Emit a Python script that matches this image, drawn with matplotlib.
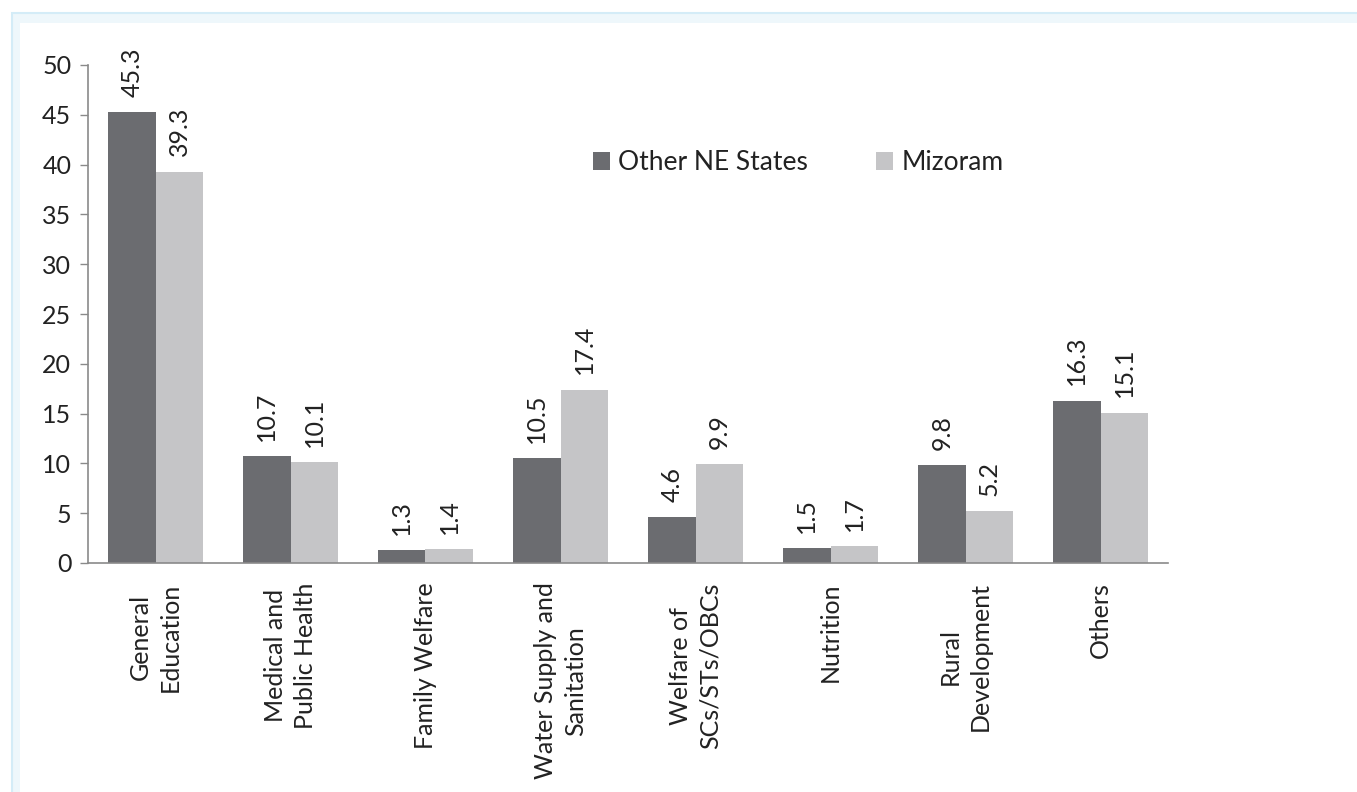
import matplotlib.pyplot as plt
import numpy as np
from matplotlib.patches import Rectangle

plt.rcParams['font.family'] = ['Lato', 'DejaVu Sans']

categories = [
    "General\nEducation",
    "Medical and\nPublic Health",
    "Family Welfare",
    "Water Supply and\nSanitation",
    "Welfare of\nSCs/STs/OBCs",
    "Nutrition",
    "Rural\nDevelopment",
    "Others",
]
other_ne = [45.3, 10.7, 1.3, 10.5, 4.6, 1.5, 9.8, 16.3]
mizoram = [39.3, 10.1, 1.4, 17.4, 9.9, 1.7, 5.2, 15.1]
series_names = ["Other NE States", "Mizoram"]

W, H = 1357, 792
fig = plt.figure(figsize=(W / 100, H / 100), dpi=100)
fig.patch.set_facecolor("white")

# pale blue page frame along the top and left
fig.patches.append(Rectangle((12 / W, -0.05), 1.0, 1.05 - 13 / H,
                             transform=fig.transFigure, facecolor="#eef7fb",
                             edgecolor="#d4ecf7", linewidth=1.5, zorder=-2))
fig.patches.append(Rectangle((20 / W, -0.05), 1.0, 1.05 - 23 / H,
                             transform=fig.transFigure, facecolor="white",
                             edgecolor="none", zorder=-1))

ax = fig.add_axes([88 / W, 1 - 563 / H, (1168 - 88) / W, (563 - 65) / H])
ax.set_facecolor("none")

x = np.arange(len(categories))
w = 0.35
b1 = ax.bar(x - w / 2, other_ne, w, color="#6b6c70", label=series_names[0])
b2 = ax.bar(x + w / 2, mizoram, w, color="#c5c5c7", label=series_names[1])

for bars, vals in ((b1, other_ne), (b2, mizoram)):
    for bar, v in zip(bars, vals):
        ax.annotate(f"{v:.1f}", (bar.get_x() + bar.get_width() / 2, v),
                    xytext=(0, 11), textcoords="offset points",
                    rotation=90, ha="center", va="bottom",
                    fontsize=18, color="#222222")

ax.set_xlim(-0.5, len(categories) - 0.5)
ax.set_ylim(0, 50)
ax.set_yticks(range(0, 51, 5))
ax.set_xticks(x)
ax.set_xticklabels(categories, rotation=90, ha="center", va="top",
                   multialignment="center", linespacing=1.35)

ax.tick_params(axis="y", length=6, width=1, color="#8a8a8a",
               labelsize=18, labelcolor="#222222", pad=6)
ax.tick_params(axis="x", length=0, labelsize=18, labelcolor="#222222", pad=14)

for side in ("top", "right"):
    ax.spines[side].set_visible(False)
for side in ("left", "bottom"):
    ax.spines[side].set_color("#8a8a8a")
    ax.spines[side].set_linewidth(1.2)

ax.legend(loc="center", bbox_to_anchor=(798 / W, 1 - 163 / H),
          bbox_transform=fig.transFigure, ncol=2, frameon=False,
          fontsize=19, handlelength=0.65, handleheight=0.65,
          handletextpad=0.3, columnspacing=2.6, labelcolor="#222222")

fig.savefig("out.png", dpi=100, facecolor=fig.get_facecolor())
